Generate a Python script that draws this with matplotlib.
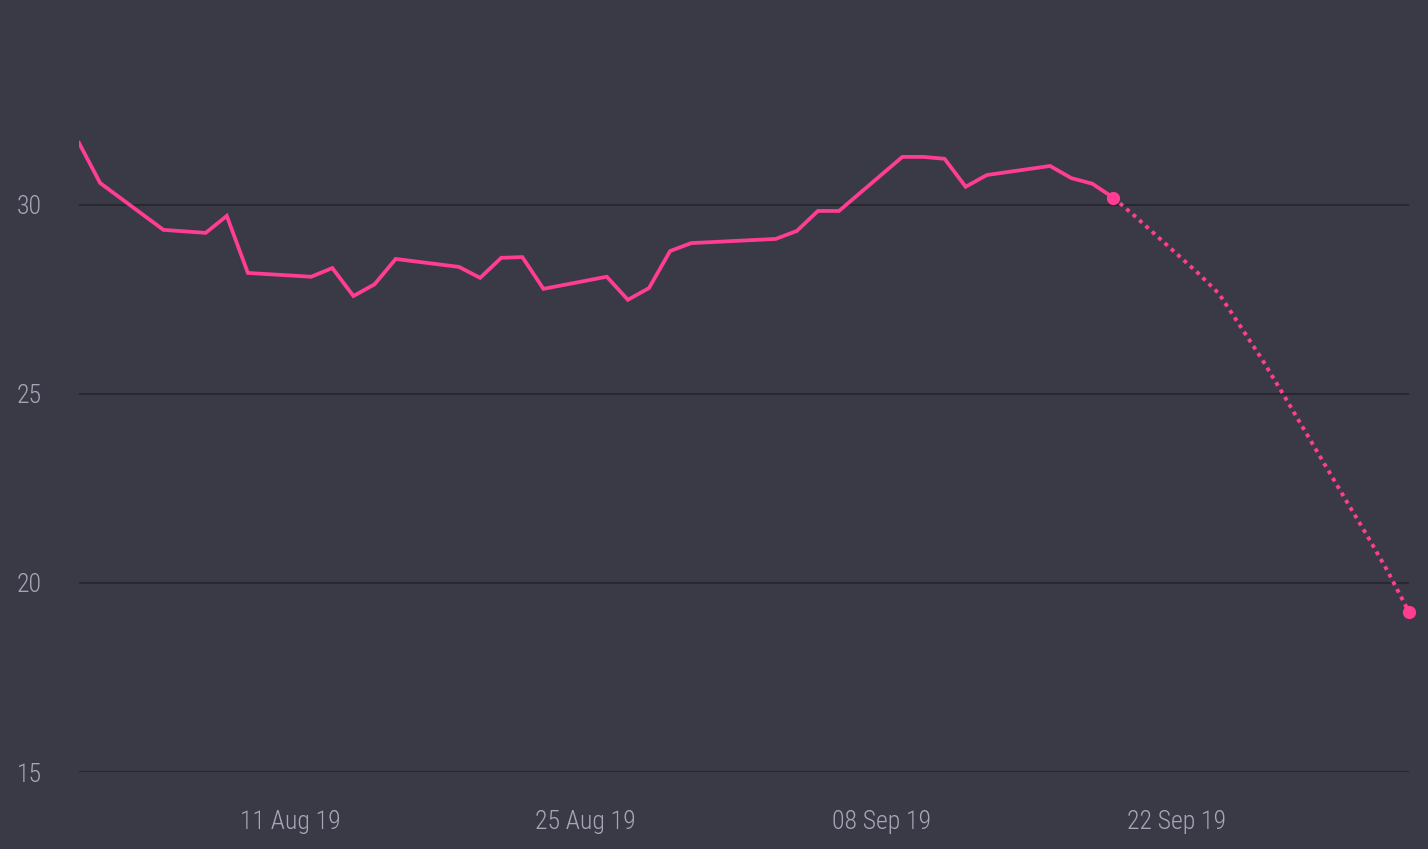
import matplotlib
matplotlib.use("Agg")
import matplotlib.pyplot as plt
import matplotlib.dates as mdates
from matplotlib import font_manager
import pandas as pd

# observed closing values (trading days)
dates = ["2019-08-01", "2019-08-02", "2019-08-05", "2019-08-06", "2019-08-07", "2019-08-08",
         "2019-08-09", "2019-08-12", "2019-08-13", "2019-08-14", "2019-08-15", "2019-08-16",
         "2019-08-19", "2019-08-20", "2019-08-21", "2019-08-22", "2019-08-23", "2019-08-26",
         "2019-08-27", "2019-08-28", "2019-08-29", "2019-08-30", "2019-09-03", "2019-09-04",
         "2019-09-05", "2019-09-06", "2019-09-09", "2019-09-10", "2019-09-11", "2019-09-12",
         "2019-09-13", "2019-09-16", "2019-09-17", "2019-09-18", "2019-09-19"]
values = [31.64, 30.58, 29.34, 29.30, 29.26, 29.71,
          28.20, 28.10, 28.33, 27.59, 27.90, 28.57,
          28.36, 28.07, 28.60, 28.62, 27.78, 28.10,
          27.49, 27.80, 28.78, 28.99, 29.10, 29.31,
          29.84, 29.84, 31.27, 31.27, 31.22, 30.48,
          30.79, 31.03, 30.71, 30.56, 30.19]

# forecast path
fc_dates = ["2019-09-19", "2019-09-20", "2019-09-23", "2019-09-24", "2019-09-25", "2019-09-26",
            "2019-09-27", "2019-09-30", "2019-10-01", "2019-10-02", "2019-10-03"]
fc_values = [30.19, 29.71, 28.20, 27.65, 26.80, 25.95, 25.03, 22.20, 21.27, 20.30, 19.23]

y_ticks = [15, 20, 25, 30]
x_ticks = ["2019-08-11", "2019-08-25", "2019-09-08", "2019-09-22"]

bg = "#3a3a46"
grid_col = "#28282f"
pink = "#ff3d92"
label_col = "#a9a5b8"

# pick a narrow face if one is around
names = {f.name for f in font_manager.fontManager.ttflist}
condensed = [f for f in font_manager.fontManager.ttflist
             if f.name == "DejaVu Sans" and "ondensed" in f.fname]
if "Roboto Condensed" in names:
    fam, stretch = "Roboto Condensed", "normal"
elif condensed:
    fam, stretch = "DejaVu Sans", "condensed"
else:
    fam, stretch = "Roboto", "normal"
plt.rcParams['font.family'] = [fam, 'DejaVu Sans']
plt.rcParams['font.stretch'] = stretch

fig = plt.figure(figsize=(14.28, 8.49), dpi=100, facecolor=bg)
ax = fig.add_axes([79 / 1428, 77 / 849, 1330 / 1428, 772 / 849])
ax.set_facecolor(bg)

d = pd.to_datetime(dates)
fd = pd.to_datetime(fc_dates)

for y in y_ticks:
    ax.axhline(y, color=grid_col, lw=1.5, zorder=1)

ax.plot(d, values, color=pink, lw=2.7, solid_joinstyle="miter", zorder=3)
ax.plot(fd, fc_values, color=pink, lw=2.8, linestyle=(0, (1, 1.2)),
        dash_capstyle="butt", zorder=3)
ax.plot([fd[0], fd[-1]], [fc_values[0], fc_values[-1]], "o", color=pink,
        markersize=9.5, markeredgewidth=0, zorder=4, clip_on=False)

ax.set_xlim(pd.Timestamp("2019-08-01"), pd.Timestamp("2019-10-03"))
ax.set_ylim(15, 35.42)
ax.set_yticks(y_ticks)
ax.set_xticks(pd.to_datetime(x_ticks))
ax.xaxis.set_major_formatter(mdates.DateFormatter("%d %b %y"))

for s in ax.spines.values():
    s.set_visible(False)
ax.tick_params(axis="both", length=0, labelsize=18.5, colors=label_col)
ax.tick_params(axis="y", pad=27)
ax.tick_params(axis="x", pad=27)
for t in ax.get_xticklabels() + ax.get_yticklabels():
    t.set_fontweight("light")

fig.savefig("out.png", dpi=100, facecolor=bg)
